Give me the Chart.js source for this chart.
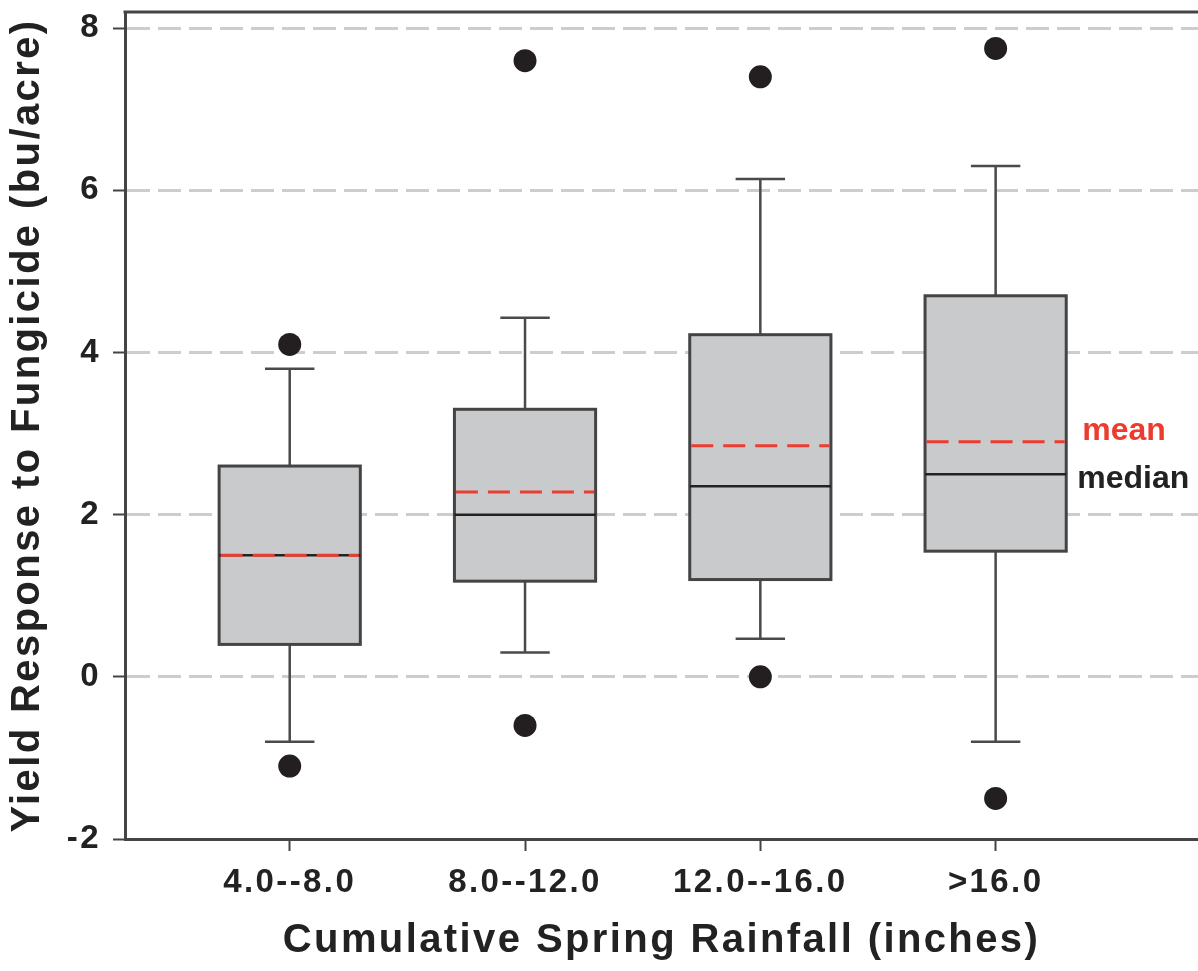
<!DOCTYPE html>
<html>
<head>
<meta charset="utf-8">
<script src="https://cdn.jsdelivr.net/npm/chart.js@4.4.1/dist/chart.umd.min.js"></script>
<style>
  html, body { margin: 0; padding: 0; background: #fff; }
  #wrap { width: 1198px; height: 971px; }
</style>
</head>
<body>
<div id="wrap"><canvas id="boxChart" width="1198" height="971"></canvas></div>
<script>
// values (bu/acre)
const categories = ['4.0--8.0', '8.0--12.0', '12.0--16.0', '>16.0'];
const whiskerLow = [-0.8, 0.3, 0.47, -0.8];
const q1 = [0.4, 1.18, 1.2, 1.55];
const median = [1.5, 2.0, 2.35, 2.5];
const mean = [1.5, 2.28, 2.85, 2.9];
const q3 = [2.6, 3.3, 4.22, 4.7];
const whiskerHigh = [3.8, 4.43, 6.14, 6.3];
const outliers = [[4.1, -1.1], [7.6, -0.6], [7.4, 0.0], [7.75, -1.5]];
const yTicks = [-2, 0, 2, 4, 6, 8];

const FONT = '"Liberation Sans", Arial, Helvetica, sans-serif';
const BOX_W = 0.6;   // box width in x units
const CAP_W = 0.21;  // whisker cap width in x units

// boxes, whiskers, medians, means + the mean/median key
const boxPlugin = {
  id: 'boxes',
  beforeDraw(chart) {
    // the source font runs wider than Arial
    chart.ctx.letterSpacing = '2.4px';
  },
  beforeDatasetsDraw(chart) {
    const ctx = chart.ctx;
    const xs = chart.scales.x;
    const ys = chart.scales.y;
    const area = chart.chartArea;

    ctx.save();
    // top frame line
    ctx.strokeStyle = '#444';
    ctx.lineWidth = 3;
    ctx.beginPath();
    ctx.moveTo(area.left - 1.5, area.top);
    ctx.lineTo(area.right, area.top);
    ctx.stroke();

    categories.forEach((c, i) => {
      const cx = xs.getPixelForValue(i + 1);
      const bl = xs.getPixelForValue(i + 1 - BOX_W / 2);
      const br = xs.getPixelForValue(i + 1 + BOX_W / 2);
      const cl = xs.getPixelForValue(i + 1 - CAP_W / 2);
      const cr = xs.getPixelForValue(i + 1 + CAP_W / 2);
      const yq1 = ys.getPixelForValue(q1[i]);
      const yq3 = ys.getPixelForValue(q3[i]);
      const ylo = ys.getPixelForValue(whiskerLow[i]);
      const yhi = ys.getPixelForValue(whiskerHigh[i]);

      // whiskers + caps
      ctx.strokeStyle = '#4a4a4a';
      ctx.lineWidth = 2.5;
      ctx.setLineDash([]);
      ctx.beginPath();
      ctx.moveTo(cx, yq3); ctx.lineTo(cx, yhi);
      ctx.moveTo(cl, yhi); ctx.lineTo(cr, yhi);
      ctx.moveTo(cx, yq1); ctx.lineTo(cx, ylo);
      ctx.moveTo(cl, ylo); ctx.lineTo(cr, ylo);
      ctx.stroke();

      // box
      ctx.fillStyle = '#c9cacc';
      ctx.fillRect(bl, yq3, br - bl, yq1 - yq3);
      ctx.strokeStyle = '#444';
      ctx.lineWidth = 3;
      ctx.strokeRect(bl, yq3, br - bl, yq1 - yq3);

      // median
      const ym = ys.getPixelForValue(median[i]);
      ctx.strokeStyle = '#222';
      ctx.lineWidth = 2.5;
      ctx.beginPath();
      ctx.moveTo(bl, ym); ctx.lineTo(br, ym);
      ctx.stroke();

      // mean
      const ya = ys.getPixelForValue(mean[i]);
      ctx.strokeStyle = '#ec3b2f';
      ctx.lineWidth = 3;
      ctx.setLineDash([22, 10]);
      ctx.beginPath();
      ctx.moveTo(bl + 1.5, ya); ctx.lineTo(br - 1.5, ya);
      ctx.stroke();
      ctx.setLineDash([]);
    });

    // key next to the last box
    const last = categories.length - 1;
    const rx = xs.getPixelForValue(last + 1 + BOX_W / 2);
    ctx.letterSpacing = '0px';
    ctx.font = 'bold 32px ' + FONT;
    ctx.textAlign = 'left';
    ctx.textBaseline = 'alphabetic';
    ctx.fillStyle = '#ec3b2f';
    ctx.fillText('mean', rx + 16, ys.getPixelForValue(mean[last]) - 2);
    ctx.fillStyle = '#222';
    ctx.fillText('median', rx + 11, ys.getPixelForValue(median[last]) + 14);
    ctx.restore();
  }
};

const outlierPoints = [];
outliers.forEach((vals, i) => {
  vals.forEach(v => outlierPoints.push({ x: i + 1, y: v }));
});

new Chart(document.getElementById('boxChart'), {
  type: 'scatter',
  data: {
    datasets: [{
      label: 'outliers',
      data: outlierPoints,
      pointRadius: 11.5,
      pointHoverRadius: 11.5,
      backgroundColor: '#231f20',
      borderWidth: 0
    }]
  },
  options: {
    responsive: false,
    animation: false,
    events: [],
    layout: { autoPadding: false, padding: { top: 12, right: 0, left: 0, bottom: 0 } },
    plugins: { legend: { display: false }, tooltip: { enabled: false } },
    scales: {
      x: {
        type: 'linear',
        min: 0.3,
        max: 4.86,
        afterBuildTicks: (scale) => { scale.ticks = categories.map((c, i) => ({ value: i + 1 })); },
        afterFit: (scale) => {
          scale.height = 132;
          scale.paddingLeft = 0;
          scale.paddingRight = 0;
        },
        ticks: {
          autoSkip: false,
          maxRotation: 0,
          padding: 12,
          color: '#222',
          font: { family: FONT, size: 33, weight: 'bold' },
          callback: (v) => categories[v - 1]
        },
        grid: {
          display: true,
          drawOnChartArea: false,
          drawTicks: true,
          tickLength: 12,
          tickWidth: 2,
          tickColor: '#444'
        },
        border: { display: true, color: '#444', width: 3 },
        title: {
          display: true,
          text: 'Cumulative Spring Rainfall (inches)',
          color: '#222',
          font: { family: FONT, size: 40, weight: 'bold' },
          padding: { top: 0, bottom: 6 }
        }
      },
      y: {
        min: -2,
        max: 8.2,
        afterBuildTicks: (scale) => { scale.ticks = yTicks.map(v => ({ value: v })); },
        afterFit: (scale) => {
          scale.width = 125;
          scale.paddingTop = 0;
          scale.paddingBottom = 0;
        },
        ticks: {
          padding: 12,
          color: '#222',
          font: { family: FONT, size: 33, weight: 'bold' },
          callback: (v) => String(v)
        },
        grid: {
          color: (ctx) => (ctx.tick && ctx.tick.value === yTicks[0]) ? 'rgba(0,0,0,0)' : '#cdcdcd',
          lineWidth: 3,
          drawTicks: true,
          tickLength: 12,
          tickWidth: 2,
          tickColor: '#444'
        },
        border: { display: true, color: '#444', width: 3, dash: [23, 8] },
        title: {
          display: true,
          text: 'Yield Response to Fungicide (bu/acre)',
          color: '#222',
          font: { family: FONT, size: 40, weight: 'bold' },
          padding: { top: 4, bottom: 0 }
        }
      }
    }
  },
  plugins: [boxPlugin]
});
</script>
</body>
</html>
